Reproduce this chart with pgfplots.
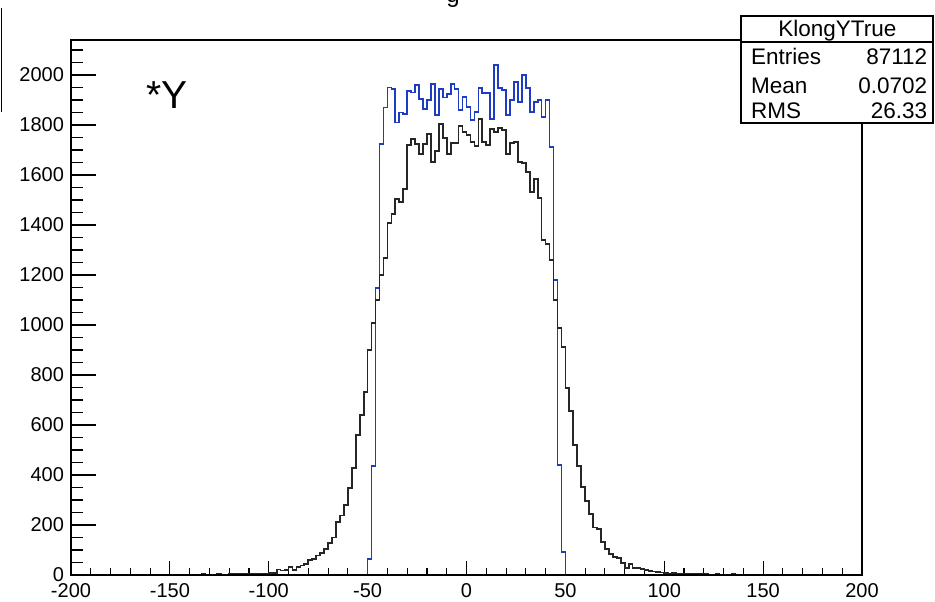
\documentclass[border=0pt]{standalone}
\usepackage{fontspec}
\setmainfont{Liberation Sans}
\usepackage{pgfplots}
\usepackage{pgfplotstable}
\pgfplotsset{compat=1.18}
\definecolor{rootblue}{RGB}{30,60,195}

% bin lower edge, content (bin width 2)
\pgfplotstableread{
x y
-200 0
-138 2
-136 0
-134 3
-132 0
-130 1
-128 0
-126 3
-124 0
-122 2
-120 4
-118 5
-116 4
-114 5
-112 4
-110 5
-108 6
-106 5
-104 6
-102 5
-100 7
-98 8
-96 22
-94 18
-92 20
-90 32
-88 21
-86 32
-84 38
-82 45
-80 60
-78 65
-76 78
-74 88
-72 105
-70 127
-68 150
-66 213
-64 238
-62 280
-60 347
-58 427
-56 560
-54 640
-52 733
-50 900
-48 1007
-46 1100
-44 1200
-42 1267
-40 1407
-38 1443
-36 1504
-34 1493
-32 1543
-30 1720
-28 1744
-26 1723
-24 1683
-22 1723
-20 1763
-18 1651
-16 1696
-14 1803
-12 1749
-10 1683
-8 1727
-6 1727
-4 1797
-2 1771
0 1760
2 1731
4 1717
6 1824
8 1731
10 1720
12 1784
14 1773
16 1789
18 1780
20 1683
22 1727
24 1733
26 1651
28 1647
30 1611
32 1533
34 1584
36 1507
38 1340
40 1323
42 1260
44 1100
46 989
48 913
50 747
52 657
54 520
56 436
58 353
60 296
62 244
64 190
66 185
68 133
70 103
72 84
74 73
76 67
78 49
80 27
82 44
84 29
86 27
88 23
90 20
92 17
94 14
96 12
98 10
100 8
102 6
104 7
106 5
108 6
110 4
112 5
114 4
116 5
118 3
120 4
122 2
124 0
126 3
128 0
130 2
132 0
134 3
136 0
142 2
144 0
200 0
}\recodata

\pgfplotstableread{
x y
-50 0
-50 63
-48 436
-46 1147
-44 1725
-42 1870
-40 1950
-38 1945
-36 1810
-34 1850
-32 1845
-30 1935
-28 1930
-26 1960
-24 1905
-22 1865
-20 1900
-18 1965
-16 1840
-14 1945
-12 1910
-10 1925
-8 1965
-6 1945
-4 1860
-2 1913
0 1873
2 1820
4 1853
6 1949
8 1927
10 1927
12 1824
14 2040
16 1947
18 1940
20 1840
22 1900
24 1973
26 1893
28 2000
30 1947
32 1853
34 1893
36 1900
38 1833
40 1900
42 1713
44 1180
46 440
48 93
50 0
}\truedata

\pgfplotsset{
  rootframe/.style={
    width=395.5pt, height=267.5pt, scale only axis,
    at={(35.5pt,13pt)}, anchor=south west,
    xmin=-200, xmax=200, ymin=0, ymax=2140,
    axis line style={line width=0.55pt},
    tick style={black, line width=0.55pt},
    tick align=inside, tick pos=left,
    ticklabel style={font=\fontsize{10}{12}\selectfont},
  }
}

\begin{document}
\begin{tikzpicture}
\begin{axis}[rootframe,
  xtick={-200,-150,...,200},
  xticklabels={-200,-150,-100,-50,0,50,100,150,200},
  minor xtick={-190,-180,...,190},
  major tick length=7pt, minor tick length=3.5pt,
  xticklabel style={yshift=-0.7pt},
  ytick=\empty,
]
  \addplot[const plot mark left, rootblue, line width=0.85pt] table {\truedata};
  \addplot[const plot mark left, black!85, line width=0.85pt] table {\recodata};
\end{axis}
\begin{axis}[rootframe,
  xtick=\empty,
  ytick={0,200,...,2000},
  yticklabels={0,200,400,600,800,1000,1200,1400,1600,1800,2000},
  minor ytick={50,100,...,2100},
  major tick length=12.5pt, minor tick length=6.25pt,
]
\end{axis}

% stats box
\draw[line width=0.55pt, fill=white] (370.5pt,239pt) rectangle (466.5pt,292.5pt);
\draw[line width=0.55pt] (370.5pt,279.5pt) -- (466.5pt,279.5pt);
\node[anchor=base, inner sep=0, font=\fontsize{11.25}{13}\selectfont] at (418.7pt,282.2pt) {KlongYTrue};
\node[anchor=base west, inner sep=0, font=\fontsize{11.25}{13}\selectfont] at (375.3pt,268pt) {Entries};
\node[anchor=base east, inner sep=0, font=\fontsize{11.25}{13}\selectfont] at (463.8pt,268pt) {87112};
\node[anchor=base west, inner sep=0, font=\fontsize{11.25}{13}\selectfont] at (375.3pt,253.8pt) {Mean};
\node[anchor=base east, inner sep=0, font=\fontsize{11.25}{13}\selectfont] at (463.8pt,253.8pt) {0.0702};
\node[anchor=base west, inner sep=0, font=\fontsize{11.25}{13}\selectfont] at (375.3pt,241.3pt) {RMS};
\node[anchor=base east, inner sep=0, font=\fontsize{11.25}{13}\selectfont] at (463.8pt,241.3pt) {26.33};

% label in the pad
\node[anchor=base west, inner sep=0, font=\fontsize{19.5}{23}\selectfont] at (72.8pt,246.3pt) {*Y};

% pieces cut by the image edge
\draw[line width=0.6pt] (0.6pt,296.5pt) -- (0.6pt,244.5pt);
\node[anchor=base, inner sep=0, font=\fontsize{12}{14}\selectfont] at (226.5pt,299pt) {g};

\pgfresetboundingbox
\path[use as bounding box] (0,0) rectangle (467.5pt,300.5pt);
\end{tikzpicture}
\end{document}
